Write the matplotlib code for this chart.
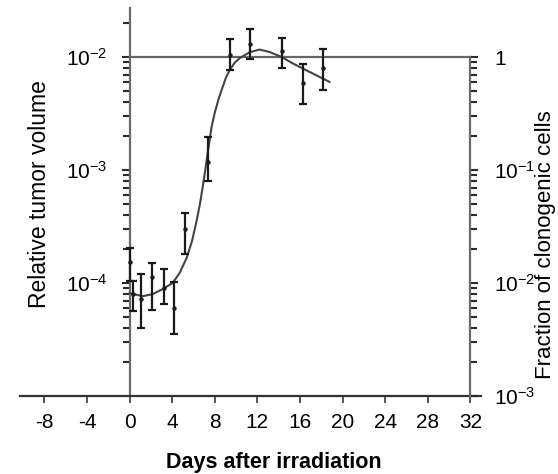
import numpy as np
import matplotlib; matplotlib.use("Agg")
import matplotlib.pyplot as plt
from matplotlib.ticker import FixedLocator, FuncFormatter, NullFormatter

plt.rcParams["font.family"] = ["Liberation Sans", "DejaVu Sans"]
plt.rcParams["mathtext.default"] = "regular"
plt.rcParams["axes.unicode_minus"] = False

# measured tumor volumes (days after irradiation), with error bar ends
day    = [0.0, 0.3, 1.1, 2.1, 3.2, 4.2, 5.2, 7.4, 9.4, 11.3, 14.3, 16.3, 18.2]
vol    = [1.54e-4, 7.98e-5, 7.16e-5, 1.14e-4, 9.08e-5, 5.96e-5, 3.04e-4, 1.19e-3,
          1.04e-2, 1.31e-2, 1.14e-2, 5.91e-3, 8.03e-3]
vol_lo = [1.04e-4, 5.64e-5, 4.01e-5, 5.72e-5, 6.55e-5, 3.54e-5, 1.80e-4, 8.07e-4,
          7.66e-3, 9.73e-3, 8.10e-3, 3.82e-3, 5.16e-3]
vol_hi = [2.06e-4, 1.04e-4, 1.21e-4, 1.50e-4, 1.32e-4, 1.02e-4, 4.17e-4, 1.96e-3,
          1.44e-2, 1.77e-2, 1.49e-2, 8.79e-3, 1.19e-2]

# fitted curve (log10 of relative volume)
curve_day  = [0.0, 1.22, 2.16, 3.10, 4.03, 4.69, 5.35, 5.85, 6.29, 6.6, 6.85, 7.1, 7.32,
              7.69, 7.97, 8.35, 8.72, 9.05, 9.38, 9.85, 10.32, 11.26, 12.2, 13.13, 14.26,
              15.29, 16.6, 17.54, 18.76]
curve_log  = [-4.089, -4.116, -4.098, -4.053, -4.0, -3.911, -3.778, -3.63, -3.449, -3.30,
              -3.156, -3.0, -2.853, -2.62, -2.50, -2.37, -2.267, -2.18, -2.116, -2.05,
              -2.009, -1.956, -1.932, -1.953, -1.997, -2.053, -2.116, -2.16, -2.218]

W, H = 558, 474
fig = plt.figure(figsize=(W/100, H/100), dpi=100)
ymin, ymax = 1e-5, 10**-1.564
ax = fig.add_axes([20/W, (H-396)/H, (481-20)/W, (396-8)/H])
ax.set_xlim(-10.3, 33)
ax.set_yscale("log")
ax.set_ylim(ymin, ymax)

spc = "#6a6a6a"
tkc = "#2a2a2a"
for s in ["top", "right"]:
    ax.spines[s].set_visible(False)
ax.spines["left"].set_position(("data", 0))
ax.spines["left"].set_color(spc); ax.spines["left"].set_linewidth(1.6)
ax.spines["bottom"].set_color("#333333"); ax.spines["bottom"].set_linewidth(1.6)

minor_l = [m*10.0**e for e in (-5, -4, -3, -2) for m in range(2, 10)]
minor_r = [m*10.0**e for e in (-3, -2, -1) for m in range(2, 10)]

ax.xaxis.set_major_locator(FixedLocator(np.arange(-8, 33, 4)))
ax.tick_params(axis="x", direction="out", length=5, width=1.4, color="#555555",
               labelsize=15, pad=7)
ax.yaxis.set_major_locator(FixedLocator([1e-4, 1e-3, 1e-2]))
ax.yaxis.set_major_formatter(FuncFormatter(lambda v, p: "$10^{%d}$" % round(np.log10(v))))
ax.yaxis.set_minor_locator(FixedLocator(minor_l))
ax.yaxis.set_minor_formatter(NullFormatter())
ax.tick_params(axis="y", which="major", direction="out", length=6, width=1.5, color=tkc,
               labelsize=15, pad=10)
ax.tick_params(axis="y", which="minor", direction="out", length=5, width=1.5, color=tkc)

# right axis: fraction of clonogenic cells
ax2 = ax.twinx()
ax2.set_yscale("log")
ax2.set_ylim(ymin*100, ymax*100)
for s in ["top", "left", "bottom"]:
    ax2.spines[s].set_visible(False)
ax2.spines["right"].set_position(("data", 32))
ax2.spines["right"].set_bounds(1e-3, 1)
ax2.spines["right"].set_color(spc); ax2.spines["right"].set_linewidth(1.6)
ax2.yaxis.set_major_locator(FixedLocator([1e-3, 1e-2, 1e-1, 1]))
ax2.yaxis.set_major_formatter(FuncFormatter(
    lambda v, p: "1" if round(np.log10(v)) == 0 else "$10^{%d}$" % round(np.log10(v))))
ax2.yaxis.set_minor_locator(FixedLocator(minor_r))
ax2.yaxis.set_minor_formatter(NullFormatter())
ax2.tick_params(axis="y", which="major", direction="out", length=6, width=1.5, color=tkc,
                labelsize=15, pad=11)
ax2.tick_params(axis="y", which="minor", direction="out", length=5, width=1.5, color=tkc)

ax.plot([0, 32], [1e-2, 1e-2], color="#666666", lw=1.6, zorder=2)
ax.plot(curve_day, 10**np.array(curve_log), color="#444444", lw=1.5, zorder=3)
v = np.array(vol)
ax.errorbar(day, v, yerr=[v - np.array(vol_lo), np.array(vol_hi) - v], fmt="o", ms=2.2,
            color="#1a1a1a", ecolor="#1a1a1a", elinewidth=1.6, capsize=3.2, capthick=1.6, zorder=4)

fig.text(40/W, 1-194/H, "Relative tumor volume", rotation=90, ha="center", va="center", fontsize=16.5)
fig.text(545/W, 1-245/H, "Fraction of clonogenic cells", rotation=90, ha="center", va="center",
         fontsize=16)
fig.text(274/W, 1-468/H, "Days after irradiation", ha="center", va="baseline", fontsize=15.5,
         fontweight="bold")

fig.savefig("out.png", dpi=100)
